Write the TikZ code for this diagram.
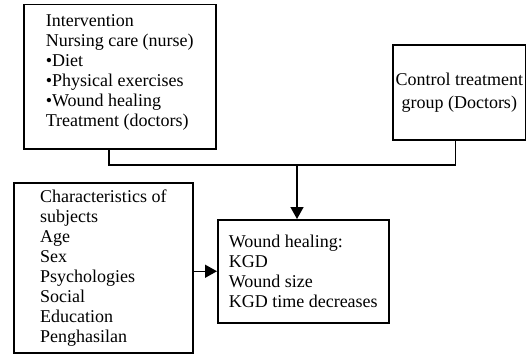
\documentclass[tikz,border=0pt]{standalone}
\usepackage{fontspec}
\setmainfont{Liberation Serif}
\usetikzlibrary{positioning, arrows.meta}

\begin{document}
\begin{tikzpicture}[x=1pt, y=1pt, line width=1.5pt, font=\fontsize{18}{20}\selectfont]
                \tikzset{box/.style={draw, rectangle, anchor=north west, inner xsep=0pt, inner ysep=0pt, align=left}}
                \tikzset{tip/.style={-{Triangle[length=12pt, width=13pt]}}}

                \useasboundingbox (0,0) rectangle (526,-353);

                \node[box, minimum width=192, minimum height=144] (interv) at (23,-4)
                    {Intervention\\Nursing care (nurse)\\\textbullet Diet\\\textbullet Physical exercises\\\textbullet Wound healing\\Treatment (doctors)\\[-8pt]\mbox{}};
                \node[box, minimum width=133, minimum height=95, align=center] (control) at (392,-44)
                    {Control treatment\\[3pt]group (Doctors)};
                \node[box, minimum width=179, minimum height=170] (chars) at (13,-182)
                    {Characteristics of\\subjects\\Age\\Sex\\Psychologies\\Social\\Education\\Penghasilan};
                \node[box, minimum width=171, minimum height=103] (wound) at (217,-219)
                    {Wound healing:\\KGD\\Wound size\\KGD time decreases};

                \coordinate (join) at (297,-165);

                \draw ([xshift=-11pt]interv.south) |- (join) -| ([xshift=-4pt]control.south);
                \draw[tip] (join) -- (join |- wound.north);
                \draw[tip] (wound.west -| chars.east) -- (wound.west);

            \end{tikzpicture}
\end{document}
